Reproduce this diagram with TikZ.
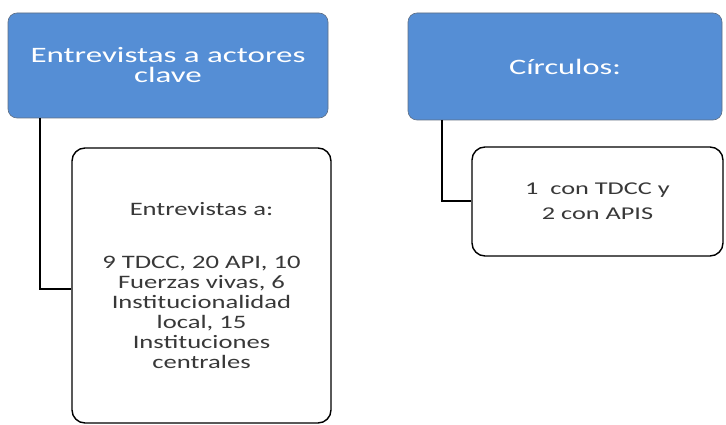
\documentclass[tikz,border=0pt]{standalone}
\usepackage{fontspec}
\usepackage{graphicx}
\setmainfont{Carlito}
\definecolor{headblue}{RGB}{85,142,213}
\definecolor{headedge}{RGB}{95,110,130}
% wide lettering: horizontally stretched, centred lines
\newcommand{\widetext}[3]{\scalebox{#1}[1]{\parbox{#2}{\centering #3}}}
\begin{document}
\begin{tikzpicture}[x=1pt,y=-1pt,
  headbox/.style={draw=headedge,line width=0.6pt,fill=headblue,rounded corners=9pt,
    text=white,inner sep=0pt},
  itembox/.style={draw=black,line width=1.4pt,fill=white,rounded corners=13pt,
    text=black!78,inner sep=0pt},
  link/.style={draw=black,line width=2.4pt}]
\useasboundingbox (0,0) rectangle (726,425);
% top-level headings
\node[headbox,minimum width=320pt,minimum height=105pt] (ent) at (168,65.5)
  {\fontsize{22}{20}\selectfont\widetext{1.5}{200pt}{Entrevistas a actores\\clave}};
\node[headbox,minimum width=314pt,minimum height=107pt] (cir) at (565,66.5)
  {\fontsize{22}{20}\selectfont\widetext{1.47}{160pt}{Círculos:}};
% detail boxes
\node[itembox,minimum width=259pt,minimum height=275pt] (entd) at (201.5,285.5)
  {\raisebox{-5.5pt}{\fontsize{19}{20}\selectfont\widetext{1.4}{170pt}{Entrevistas a:\\[33pt]
   9 TDCC, 20 API, 10\\Fuerzas vivas, 6\\Institucionalidad\\local, 15\\Instituciones\\centrales}}};
\node[itembox,minimum width=251pt,minimum height=109pt] (cird) at (597.5,201.5)
  {\fontsize{18}{25}\selectfont\widetext{1.46}{150pt}{1\ \ con TDCC y\\2 con APIS}};
% elbow connectors
\coordinate (entc) at (40,118);
\coordinate (circ) at (442,120);
\draw[link] (entc) |- (entd.west |- 0,289);
\draw[link] (circ) |- (cird.west |- 0,201);
\end{tikzpicture}
\end{document}
